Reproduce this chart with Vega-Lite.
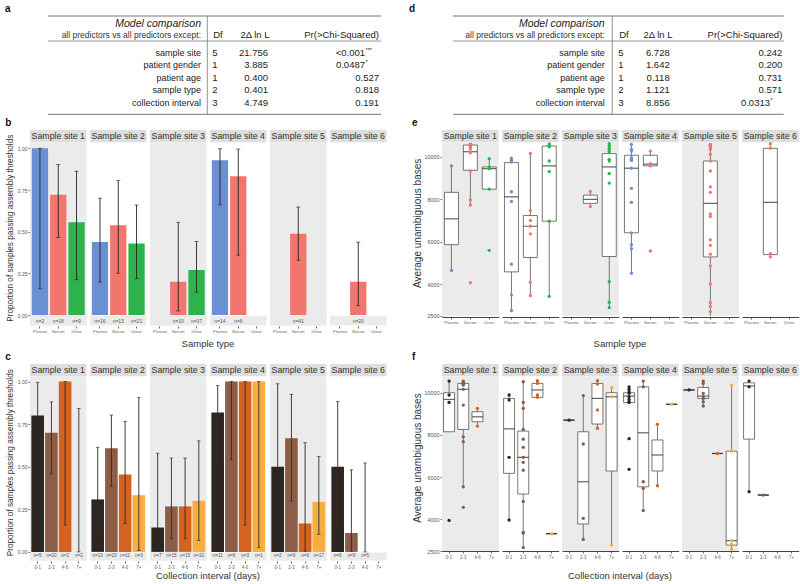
{
"$schema":"https://vega.github.io/schema/vega-lite/v6.json",
"background":"white",
"padding":{"left":5,"right":2,"top":3,"bottom":2},
"resolve":{"scale":{"color":"independent"}},
"config":{"font":"Liberation Sans","view":{"stroke":null},
"title":{"anchor":"start","frame":"bounds","fontSize":10,"fontWeight":"bold","color":"#111","offset":2},
"axis":{"grid":false,"domain":false,"tickSize":2,"tickColor":"#666","labelColor":"#555","titleColor":"#333","titleFontWeight":"normal"}},
"datasets":{
"ta":[{"row":"hdr1","label":"Model comparison"},{"row":"hdr2","label":"all predictors vs all predictors except:","df":"Df","dll":"2Δ ln L","p":"Pr(>Chi-Squared)"},{"row":"sample site","label":"sample site","df":"5","dll":"21.756","p":"<0.001","sig":"***"},{"row":"patient gender","label":"patient gender","df":"1","dll":"3.885","p":"0.0487","sig":"*"},{"row":"patient age","label":"patient age","df":"1","dll":"0.400","p":"0.527"},{"row":"sample type","label":"sample type","df":"2","dll":"0.401","p":"0.818"},{"row":"collection interval","label":"collection interval","df":"3","dll":"4.749","p":"0.191"}],
"td":[{"row":"hdr1","label":"Model comparison"},{"row":"hdr2","label":"all predictors vs all predictors except:","df":"Df","dll":"2Δ ln L","p":"Pr(>Chi-Squared)"},{"row":"sample site","label":"sample site","df":"5","dll":"6.728","p":"0.242"},{"row":"patient gender","label":"patient gender","df":"1","dll":"1.642","p":"0.200"},{"row":"patient age","label":"patient age","df":"1","dll":"0.118","p":"0.731"},{"row":"sample type","label":"sample type","df":"2","dll":"1.121","p":"0.571"},{"row":"collection interval","label":"collection interval","df":"3","dll":"8.856","p":"0.0313","sig":"*"}],
"b":[{"site":1,"type":"Plasma","p":1.0,"lo":0.158,"hi":1.0,"n":2},{"site":1,"type":"Serum","p":0.722,"lo":0.465,"hi":0.903,"n":18},{"site":1,"type":"Urine","p":0.556,"lo":0.212,"hi":0.863,"n":9},{"site":2,"type":"Plasma","p":0.4375,"lo":0.198,"hi":0.701,"n":16},{"site":2,"type":"Serum","p":0.538,"lo":0.251,"hi":0.808,"n":13},{"site":2,"type":"Urine","p":0.429,"lo":0.218,"hi":0.66,"n":21},{"site":3,"type":"Serum","p":0.2,"lo":0.025,"hi":0.556,"n":10},{"site":3,"type":"Urine","p":0.27,"lo":0.138,"hi":0.441,"n":37},{"site":4,"type":"Plasma","p":0.929,"lo":0.661,"hi":0.998,"n":14},{"site":4,"type":"Serum","p":0.833,"lo":0.359,"hi":0.996,"n":6},{"site":5,"type":"Serum","p":0.488,"lo":0.329,"hi":0.648,"n":41},{"site":6,"type":"Serum","p":0.2,"lo":0.057,"hi":0.437,"n":20}],
"c":[{"site":1,"iv":"0-1","p":0.8,"lo":0.284,"hi":0.995,"n":5},{"site":1,"iv":"2-3","p":0.7,"lo":0.457,"hi":0.881,"n":20},{"site":1,"iv":"4-6","p":1.0,"lo":0.158,"hi":1.0,"n":2},{"site":1,"iv":"7+","p":0,"lo":0,"hi":0.842,"n":2},{"site":2,"iv":"0-1","p":0.308,"lo":0.091,"hi":0.614,"n":13},{"site":2,"iv":"2-3","p":0.609,"lo":0.385,"hi":0.803,"n":23},{"site":2,"iv":"4-6","p":0.455,"lo":0.167,"hi":0.766,"n":11},{"site":2,"iv":"7+","p":0.333,"lo":0.008,"hi":0.906,"n":3},{"site":3,"iv":"0-1","p":0.143,"lo":0.004,"hi":0.579,"n":7},{"site":3,"iv":"2-3","p":0.267,"lo":0.078,"hi":0.551,"n":15},{"site":3,"iv":"4-6","p":0.267,"lo":0.078,"hi":0.551,"n":15},{"site":3,"iv":"7+","p":0.3,"lo":0.067,"hi":0.652,"n":10},{"site":4,"iv":"0-1","p":0.818,"lo":0.482,"hi":0.977,"n":11},{"site":4,"iv":"2-3","p":1.0,"lo":0.541,"hi":1.0,"n":6},{"site":4,"iv":"4-6","p":1.0,"lo":0.158,"hi":1.0,"n":3},{"site":4,"iv":"7+","p":1.0,"lo":0.025,"hi":1.0,"n":1},{"site":5,"iv":"0-1","p":0.5,"lo":0.013,"hi":0.987,"n":2},{"site":5,"iv":"2-3","p":0.667,"lo":0.299,"hi":0.925,"n":9},{"site":5,"iv":"4-6","p":0.167,"lo":0.004,"hi":0.641,"n":6},{"site":5,"iv":"7+","p":0.294,"lo":0.103,"hi":0.56,"n":17},{"site":6,"iv":"0-1","p":0.5,"lo":0.118,"hi":0.882,"n":6},{"site":6,"iv":"2-3","p":0.111,"lo":0.003,"hi":0.482,"n":9},{"site":6,"iv":"4-6","p":0,"lo":0,"hi":0.522,"n":5}],
"e":[{"k":"b","site":1,"type":"Plasma","lo":4640,"q1":5860,"med":7080,"q3":8330,"hi":9580},{"k":"b","site":1,"type":"Serum","lo":7730,"q1":9375,"med":10250,"q3":10565,"hi":10610},{"k":"b","site":1,"type":"Urine","lo":8480,"q1":8480,"med":9450,"q3":9530,"hi":9920},{"k":"b","site":2,"type":"Plasma","lo":2750,"q1":4575,"med":8120,"q3":9735,"hi":9940},{"k":"b","site":2,"type":"Serum","lo":3500,"q1":5250,"med":6730,"q3":7235,"hi":10170},{"k":"b","site":2,"type":"Urine","lo":3450,"q1":6970,"med":9580,"q3":10520,"hi":10630},{"k":"b","site":3,"type":"Serum","lo":7660,"q1":7810,"med":8000,"q3":8200,"hi":8375},{"k":"b","site":3,"type":"Urine","lo":2890,"q1":5300,"med":9530,"q3":10160,"hi":10625},{"k":"b","site":4,"type":"Plasma","lo":4510,"q1":6420,"med":9470,"q3":10080,"hi":10600},{"k":"b","site":4,"type":"Serum","lo":9580,"q1":9580,"med":9660,"q3":10080,"hi":10280},{"k":"b","site":5,"type":"Serum","lo":2500,"q1":5280,"med":7810,"q3":9810,"hi":10600},{"k":"b","site":6,"type":"Serum","lo":5280,"q1":5390,"med":7860,"q3":10410,"hi":10625},
{"k":"p","site":1,"type":"Plasma","v":9580},{"k":"p","site":1,"type":"Plasma","v":4640},
{"k":"p","site":1,"type":"Serum","v":10610},{"k":"p","site":1,"type":"Serum","v":10590},{"k":"p","site":1,"type":"Serum","v":10560},{"k":"p","site":1,"type":"Serum","v":10520},{"k":"p","site":1,"type":"Serum","v":10480},{"k":"p","site":1,"type":"Serum","v":10390},{"k":"p","site":1,"type":"Serum","v":10250},{"k":"p","site":1,"type":"Serum","v":10200},{"k":"p","site":1,"type":"Serum","v":9340},{"k":"p","site":1,"type":"Serum","v":7970},{"k":"p","site":1,"type":"Serum","v":7730},{"k":"p","site":1,"type":"Serum","v":4060},
{"k":"p","site":1,"type":"Urine","v":9920},{"k":"p","site":1,"type":"Urine","v":9530},{"k":"p","site":1,"type":"Urine","v":9450},{"k":"p","site":1,"type":"Urine","v":8480},{"k":"p","site":1,"type":"Urine","v":5590},
{"k":"p","site":2,"type":"Plasma","v":9940},{"k":"p","site":2,"type":"Plasma","v":9850},{"k":"p","site":2,"type":"Plasma","v":9770},{"k":"p","site":2,"type":"Plasma","v":8360},{"k":"p","site":2,"type":"Plasma","v":7900},{"k":"p","site":2,"type":"Plasma","v":4940},{"k":"p","site":2,"type":"Plasma","v":3480},{"k":"p","site":2,"type":"Plasma","v":2750},
{"k":"p","site":2,"type":"Serum","v":10170},{"k":"p","site":2,"type":"Serum","v":7470},{"k":"p","site":2,"type":"Serum","v":7000},{"k":"p","site":2,"type":"Serum","v":6730},{"k":"p","site":2,"type":"Serum","v":6370},{"k":"p","site":2,"type":"Serum","v":4080},{"k":"p","site":2,"type":"Serum","v":3450},
{"k":"p","site":2,"type":"Urine","v":10620},{"k":"p","site":2,"type":"Urine","v":10560},{"k":"p","site":2,"type":"Urine","v":10510},{"k":"p","site":2,"type":"Urine","v":10480},{"k":"p","site":2,"type":"Urine","v":9810},{"k":"p","site":2,"type":"Urine","v":9310},{"k":"p","site":2,"type":"Urine","v":6970},{"k":"p","site":2,"type":"Urine","v":3420},
{"k":"p","site":3,"type":"Serum","v":8375},{"k":"p","site":3,"type":"Serum","v":7660},
{"k":"p","site":3,"type":"Urine","v":10625},{"k":"p","site":3,"type":"Urine","v":10520},{"k":"p","site":3,"type":"Urine","v":10390},{"k":"p","site":3,"type":"Urine","v":10360},{"k":"p","site":3,"type":"Urine","v":10250},{"k":"p","site":3,"type":"Urine","v":9890},{"k":"p","site":3,"type":"Urine","v":9810},{"k":"p","site":3,"type":"Urine","v":9220},{"k":"p","site":3,"type":"Urine","v":8770},{"k":"p","site":3,"type":"Urine","v":4110},{"k":"p","site":3,"type":"Urine","v":3140},{"k":"p","site":3,"type":"Urine","v":2890},
{"k":"p","site":4,"type":"Plasma","v":10590},{"k":"p","site":4,"type":"Plasma","v":10360},{"k":"p","site":4,"type":"Plasma","v":10280},{"k":"p","site":4,"type":"Plasma","v":9970},{"k":"p","site":4,"type":"Plasma","v":9890},{"k":"p","site":4,"type":"Plasma","v":9840},{"k":"p","site":4,"type":"Plasma","v":9470},{"k":"p","site":4,"type":"Plasma","v":8520},{"k":"p","site":4,"type":"Plasma","v":7860},{"k":"p","site":4,"type":"Plasma","v":6420},{"k":"p","site":4,"type":"Plasma","v":5860},{"k":"p","site":4,"type":"Plasma","v":5670},{"k":"p","site":4,"type":"Plasma","v":4510},
{"k":"p","site":4,"type":"Serum","v":10280},{"k":"p","site":4,"type":"Serum","v":9690},{"k":"p","site":4,"type":"Serum","v":9580},{"k":"p","site":4,"type":"Serum","v":5560},
{"k":"p","site":5,"type":"Serum","v":10590},{"k":"p","site":5,"type":"Serum","v":10550},{"k":"p","site":5,"type":"Serum","v":10520},{"k":"p","site":5,"type":"Serum","v":10440},{"k":"p","site":5,"type":"Serum","v":10360},{"k":"p","site":5,"type":"Serum","v":10130},{"k":"p","site":5,"type":"Serum","v":9810},{"k":"p","site":5,"type":"Serum","v":9340},{"k":"p","site":5,"type":"Serum","v":8590},{"k":"p","site":5,"type":"Serum","v":8330},{"k":"p","site":5,"type":"Serum","v":7310},{"k":"p","site":5,"type":"Serum","v":7190},{"k":"p","site":5,"type":"Serum","v":6090},{"k":"p","site":5,"type":"Serum","v":5830},{"k":"p","site":5,"type":"Serum","v":5410},{"k":"p","site":5,"type":"Serum","v":4860},{"k":"p","site":5,"type":"Serum","v":4000},{"k":"p","site":5,"type":"Serum","v":3120},{"k":"p","site":5,"type":"Serum","v":2940},{"k":"p","site":5,"type":"Serum","v":2700},
{"k":"p","site":6,"type":"Serum","v":10625},{"k":"p","site":6,"type":"Serum","v":10410},{"k":"p","site":6,"type":"Serum","v":5440},{"k":"p","site":6,"type":"Serum","v":5280}],
"f":[{"k":"b","site":1,"iv":"0-1","lo":8150,"q1":8150,"med":9680,"q3":10000,"hi":10550},{"k":"b","site":1,"iv":"2-3","lo":5540,"q1":8260,"med":10160,"q3":10440,"hi":10600},{"k":"b","site":1,"iv":"4-6","lo":8420,"q1":8625,"med":8860,"q3":9100,"hi":9260},{"k":"b","site":2,"iv":"0-1","lo":3970,"q1":6180,"med":8290,"q3":9730,"hi":9890},{"k":"b","site":2,"iv":"2-3","lo":2650,"q1":5200,"med":6935,"q3":8180,"hi":10520},{"k":"b","site":2,"iv":"4-6","lo":9780,"q1":9780,"med":10130,"q3":10440,"hi":10570},{"k":"b","site":2,"iv":"7+","lo":3320,"q1":3320,"med":3320,"q3":3320,"hi":3320},{"k":"b","site":3,"iv":"0-1","lo":8700,"q1":8700,"med":8700,"q3":8700,"hi":8700},{"k":"b","site":3,"iv":"2-3","lo":3050,"q1":3780,"med":5780,"q3":8150,"hi":9860},{"k":"b","site":3,"iv":"4-6","lo":8310,"q1":8515,"med":9730,"q3":10440,"hi":10570},{"k":"b","site":3,"iv":"7+","lo":2780,"q1":6290,"med":9810,"q3":10000,"hi":10240},{"k":"b","site":4,"iv":"0-1","lo":9530,"q1":9530,"med":9840,"q3":10000,"hi":10280},{"k":"b","site":4,"iv":"2-3","lo":4520,"q1":5540,"med":8100,"q3":10280,"hi":10550},{"k":"b","site":4,"iv":"4-6","lo":5590,"q1":6290,"med":7050,"q3":7760,"hi":8500},{"k":"b","site":4,"iv":"7+","lo":9450,"q1":9450,"med":9450,"q3":9450,"hi":9450},{"k":"b","site":5,"iv":"0-1","lo":10130,"q1":10130,"med":10130,"q3":10130,"hi":10130},{"k":"b","site":5,"iv":"2-3","lo":9370,"q1":9730,"med":9840,"q3":10250,"hi":10550},{"k":"b","site":5,"iv":"4-6","lo":7120,"q1":7120,"med":7120,"q3":7120,"hi":7120},{"k":"b","site":5,"iv":"7+","lo":2580,"q1":2780,"med":2990,"q3":7230,"hi":10360},{"k":"b","site":6,"iv":"0-1","lo":5310,"q1":7800,"med":10320,"q3":10470,"hi":10550},{"k":"b","site":6,"iv":"2-3","lo":5150,"q1":5150,"med":5150,"q3":5150,"hi":5150},
{"k":"p","site":1,"iv":"0-1","v":10550},{"k":"p","site":1,"iv":"0-1","v":9890},{"k":"p","site":1,"iv":"0-1","v":9540},{"k":"p","site":1,"iv":"0-1","v":3950},
{"k":"p","site":1,"iv":"2-3","v":10550},{"k":"p","site":1,"iv":"2-3","v":10510},{"k":"p","site":1,"iv":"2-3","v":10470},{"k":"p","site":1,"iv":"2-3","v":10440},{"k":"p","site":1,"iv":"2-3","v":10400},{"k":"p","site":1,"iv":"2-3","v":10360},{"k":"p","site":1,"iv":"2-3","v":10160},{"k":"p","site":1,"iv":"2-3","v":9415},{"k":"p","site":1,"iv":"2-3","v":7910},{"k":"p","site":1,"iv":"2-3","v":7680},{"k":"p","site":1,"iv":"2-3","v":5540},{"k":"p","site":1,"iv":"2-3","v":4570},
{"k":"p","site":1,"iv":"4-6","v":9260},{"k":"p","site":1,"iv":"4-6","v":8420},
{"k":"p","site":2,"iv":"0-1","v":9890},{"k":"p","site":2,"iv":"0-1","v":9650},{"k":"p","site":2,"iv":"0-1","v":6940},{"k":"p","site":2,"iv":"0-1","v":3970},
{"k":"p","site":2,"iv":"2-3","v":10520},{"k":"p","site":2,"iv":"2-3","v":9540},{"k":"p","site":2,"iv":"2-3","v":9260},{"k":"p","site":2,"iv":"2-3","v":8260},{"k":"p","site":2,"iv":"2-3","v":7800},{"k":"p","site":2,"iv":"2-3","v":7410},{"k":"p","site":2,"iv":"2-3","v":6940},{"k":"p","site":2,"iv":"2-3","v":6700},{"k":"p","site":2,"iv":"2-3","v":6330},{"k":"p","site":2,"iv":"2-3","v":4850},{"k":"p","site":2,"iv":"2-3","v":3380},{"k":"p","site":2,"iv":"2-3","v":3350},{"k":"p","site":2,"iv":"2-3","v":2660},
{"k":"p","site":2,"iv":"4-6","v":10570},{"k":"p","site":2,"iv":"4-6","v":10440},{"k":"p","site":2,"iv":"4-6","v":9890},{"k":"p","site":2,"iv":"4-6","v":9780},
{"k":"p","site":2,"iv":"7+","v":3320},
{"k":"p","site":3,"iv":"0-1","v":8700},
{"k":"p","site":3,"iv":"2-3","v":9860},{"k":"p","site":3,"iv":"2-3","v":7570},{"k":"p","site":3,"iv":"2-3","v":4050},{"k":"p","site":3,"iv":"2-3","v":3050},
{"k":"p","site":3,"iv":"4-6","v":10570},{"k":"p","site":3,"iv":"4-6","v":10410},{"k":"p","site":3,"iv":"4-6","v":9180},{"k":"p","site":3,"iv":"4-6","v":8310},
{"k":"p","site":3,"iv":"7+","v":10240},{"k":"p","site":3,"iv":"7+","v":9810},{"k":"p","site":3,"iv":"7+","v":2780},
{"k":"p","site":4,"iv":"0-1","v":10280},{"k":"p","site":4,"iv":"0-1","v":10160},{"k":"p","site":4,"iv":"0-1","v":10050},{"k":"p","site":4,"iv":"0-1","v":9970},{"k":"p","site":4,"iv":"0-1","v":9810},{"k":"p","site":4,"iv":"0-1","v":9680},{"k":"p","site":4,"iv":"0-1","v":9570},{"k":"p","site":4,"iv":"0-1","v":9530},{"k":"p","site":4,"iv":"0-1","v":7820},{"k":"p","site":4,"iv":"0-1","v":6370},
{"k":"p","site":4,"iv":"2-3","v":10550},{"k":"p","site":4,"iv":"2-3","v":10280},{"k":"p","site":4,"iv":"2-3","v":5780},{"k":"p","site":4,"iv":"2-3","v":5470},{"k":"p","site":4,"iv":"2-3","v":4420},
{"k":"p","site":4,"iv":"4-6","v":8500},{"k":"p","site":4,"iv":"4-6","v":5590},
{"k":"p","site":4,"iv":"7+","v":9450},
{"k":"p","site":5,"iv":"0-1","v":10130},
{"k":"p","site":5,"iv":"2-3","v":10550},{"k":"p","site":5,"iv":"2-3","v":10440},{"k":"p","site":5,"iv":"2-3","v":9970},{"k":"p","site":5,"iv":"2-3","v":9810},{"k":"p","site":5,"iv":"2-3","v":9730},{"k":"p","site":5,"iv":"2-3","v":9570},{"k":"p","site":5,"iv":"2-3","v":9370},
{"k":"p","site":5,"iv":"4-6","v":7120},
{"k":"p","site":5,"iv":"7+","v":10360},{"k":"p","site":5,"iv":"7+","v":7230},{"k":"p","site":5,"iv":"7+","v":2990},{"k":"p","site":5,"iv":"7+","v":2830},{"k":"p","site":5,"iv":"7+","v":2580},
{"k":"p","site":6,"iv":"0-1","v":10550},{"k":"p","site":6,"iv":"0-1","v":10280},{"k":"p","site":6,"iv":"0-1","v":5310},
{"k":"p","site":6,"iv":"2-3","v":5150}]
},
"spacing":22,
"hconcat":[
{"spacing":3,"resolve":{"scale":{"color":"independent"}},"vconcat":[
{"title":{"text":"a","dx":-25},"width":354,"height":98.3,"data":{"name":"ta"},
"layer":[
{"transform":[{"filter":"datum.row == 'hdr1'"}],"mark":{"type":"rule","color":"#777","strokeWidth":1},"encoding":{"x":{"datum":18,"type":"quantitative","scale":{"domain":[0,354],"nice":false,"zero":false},"axis":null},"x2":{"datum":351},"y":{"field":"row","type":"nominal","scale":{"type":"band","domain":["hdr1","hdr2","sample site","patient gender","patient age","sample type","collection interval"],"paddingInner":0,"paddingOuter":0.432},"axis":null,"bandPosition":-0.432}}},
{"transform":[{"filter":"datum.row == 'hdr2'"}],"mark":{"type":"rule","color":"#777","strokeWidth":0.8},"encoding":{"x":{"datum":18,"type":"quantitative","scale":{"domain":[0,354],"nice":false,"zero":false},"axis":null},"x2":{"datum":351},"y":{"field":"row","type":"nominal","scale":{"type":"band","domain":["hdr1","hdr2","sample site","patient gender","patient age","sample type","collection interval"],"paddingInner":0,"paddingOuter":0.432},"axis":null,"bandPosition":0.57}}},
{"transform":[{"filter":"datum.row == 'collection interval'"}],"mark":{"type":"rule","color":"#777","strokeWidth":1},"encoding":{"x":{"datum":18,"type":"quantitative","scale":{"domain":[0,354],"nice":false,"zero":false},"axis":null},"x2":{"datum":351},"y":{"field":"row","type":"nominal","scale":{"type":"band","domain":["hdr1","hdr2","sample site","patient gender","patient age","sample type","collection interval"],"paddingInner":0,"paddingOuter":0.432},"axis":null,"bandPosition":1.432}}},
{"transform":[{"filter":"datum.row == 'hdr1'"}],"mark":{"type":"rule","color":"#777","strokeWidth":0.8},"encoding":{"x":{"datum":177.3,"type":"quantitative","scale":{"domain":[0,354],"nice":false,"zero":false},"axis":null}}},
{"transform":[{"filter":"datum.row == 'hdr1'"}],"mark":{"type":"text","align":"right","fontStyle":"italic","fontSize":10.5,"color":"#222"},"encoding":{"x":{"datum":171,"type":"quantitative","scale":{"domain":[0,354],"nice":false,"zero":false},"axis":null},"y":{"field":"row","type":"nominal","scale":{"type":"band","domain":["hdr1","hdr2","sample site","patient gender","patient age","sample type","collection interval"],"paddingInner":0,"paddingOuter":0.432},"axis":null,"bandPosition":0.23},"text":{"field":"label"}}},
{"transform":[{"filter":"datum.row == 'hdr2'"}],"mark":{"type":"text","align":"right","fontSize":8.5,"color":"#333"},"encoding":{"x":{"datum":171,"type":"quantitative","scale":{"domain":[0,354],"nice":false,"zero":false},"axis":null},"y":{"field":"row","type":"nominal","scale":{"type":"band","domain":["hdr1","hdr2","sample site","patient gender","patient age","sample type","collection interval"],"paddingInner":0,"paddingOuter":0.432},"axis":null,"bandPosition":0.11},"text":{"field":"label"}}},
{"transform":[{"filter":"datum.row == 'hdr2'"}],"mark":{"type":"text","align":"center","fontSize":9.5,"color":"#222"},"encoding":{"x":{"datum":188,"type":"quantitative","scale":{"domain":[0,354],"nice":false,"zero":false},"axis":null},"y":{"field":"row","type":"nominal","scale":{"type":"band","domain":["hdr1","hdr2","sample site","patient gender","patient age","sample type","collection interval"],"paddingInner":0,"paddingOuter":0.432},"axis":null,"bandPosition":0.11},"text":{"field":"df"}}},
{"transform":[{"filter":"datum.row == 'hdr2'"}],"mark":{"type":"text","align":"center","fontSize":9.5,"color":"#222"},"encoding":{"x":{"datum":225,"type":"quantitative","scale":{"domain":[0,354],"nice":false,"zero":false},"axis":null},"y":{"field":"row","type":"nominal","scale":{"type":"band","domain":["hdr1","hdr2","sample site","patient gender","patient age","sample type","collection interval"],"paddingInner":0,"paddingOuter":0.432},"axis":null,"bandPosition":0.11},"text":{"field":"dll"}}},
{"transform":[{"filter":"datum.row == 'hdr2'"}],"mark":{"type":"text","align":"right","fontSize":9.5,"color":"#222"},"encoding":{"x":{"datum":349,"type":"quantitative","scale":{"domain":[0,354],"nice":false,"zero":false},"axis":null},"y":{"field":"row","type":"nominal","scale":{"type":"band","domain":["hdr1","hdr2","sample site","patient gender","patient age","sample type","collection interval"],"paddingInner":0,"paddingOuter":0.432},"axis":null,"bandPosition":0.11},"text":{"field":"p"}}},
{"transform":[{"filter":"datum.row != 'hdr1' && datum.row != 'hdr2'"}],"mark":{"type":"text","align":"right","fontSize":9,"color":"#222"},"encoding":{"x":{"datum":171,"type":"quantitative","scale":{"domain":[0,354],"nice":false,"zero":false},"axis":null},"y":{"field":"row","type":"nominal","scale":{"type":"band","domain":["hdr1","hdr2","sample site","patient gender","patient age","sample type","collection interval"],"paddingInner":0,"paddingOuter":0.432},"axis":null},"text":{"field":"label"}}},
{"transform":[{"filter":"datum.row != 'hdr1' && datum.row != 'hdr2'"}],"mark":{"type":"text","align":"center","fontSize":9.5,"color":"#222"},"encoding":{"x":{"datum":185,"type":"quantitative","scale":{"domain":[0,354],"nice":false,"zero":false},"axis":null},"y":{"field":"row","type":"nominal","scale":{"type":"band","domain":["hdr1","hdr2","sample site","patient gender","patient age","sample type","collection interval"],"paddingInner":0,"paddingOuter":0.432},"axis":null},"text":{"field":"df"}}},
{"transform":[{"filter":"datum.row != 'hdr1' && datum.row != 'hdr2'"}],"mark":{"type":"text","align":"right","fontSize":9.5,"color":"#222"},"encoding":{"x":{"datum":238,"type":"quantitative","scale":{"domain":[0,354],"nice":false,"zero":false},"axis":null},"y":{"field":"row","type":"nominal","scale":{"type":"band","domain":["hdr1","hdr2","sample site","patient gender","patient age","sample type","collection interval"],"paddingInner":0,"paddingOuter":0.432},"axis":null},"text":{"field":"dll"}}},
{"transform":[{"filter":"datum.row != 'hdr1' && datum.row != 'hdr2' && !datum.sig"}],"mark":{"type":"text","align":"right","fontSize":9.5,"color":"#222"},"encoding":{"x":{"datum":349,"type":"quantitative","scale":{"domain":[0,354],"nice":false,"zero":false},"axis":null},"y":{"field":"row","type":"nominal","scale":{"type":"band","domain":["hdr1","hdr2","sample site","patient gender","patient age","sample type","collection interval"],"paddingInner":0,"paddingOuter":0.432},"axis":null},"text":{"field":"p"}}},
{"transform":[{"filter":"datum.sig"}],"mark":{"type":"text","align":"right","fontSize":9.5,"color":"#222"},"encoding":{"x":{"datum":335,"type":"quantitative","scale":{"domain":[0,354],"nice":false,"zero":false},"axis":null},"y":{"field":"row","type":"nominal","scale":{"type":"band","domain":["hdr1","hdr2","sample site","patient gender","patient age","sample type","collection interval"],"paddingInner":0,"paddingOuter":0.432},"axis":null},"text":{"field":"p"}}},
{"transform":[{"filter":"datum.sig"}],"mark":{"type":"text","align":"left","fontSize":5.5,"dy":-3,"color":"#222"},"encoding":{"x":{"datum":335.5,"type":"quantitative","scale":{"domain":[0,354],"nice":false,"zero":false},"axis":null},"y":{"field":"row","type":"nominal","scale":{"type":"band","domain":["hdr1","hdr2","sample site","patient gender","patient age","sample type","collection interval"],"paddingInner":0,"paddingOuter":0.432},"axis":null},"text":{"field":"sig"}}}
]},
{"title":{"text":"b"},"data":{"name":"b"},"transform":[{"calculate":"'n=' + datum.n","as":"nlab"}],
"facet":{"column":{"field":"site","type":"ordinal","header":{"labels":false,"title":"Sample type","titleOrient":"bottom","titleFontSize":9.5,"titleFontWeight":"normal","titleColor":"#333","titlePadding":-5}}},
"spacing":3,
"spec":{"width":56.5,"height":195.4,"layer":[
{"transform":[{"aggregate":[{"op":"count","as":"cnt"}],"groupby":["site"]}],"mark":{"type":"rect"},"encoding":{"y":{"datum":-0.062,"type":"quantitative","scale":{"domain":[-0.062,1.11],"nice":false,"zero":false},"axis":{"values":[0,0.25,0.5,0.75,1],"format":".2f","title":"Proportion of samples passing assembly thresholds","titleFontSize":8.2,"labelFontSize":5,"labelPadding":1,"titlePadding":3}},"y2":{"datum":1.035},"fill":{"condition":{"test":"datum.site % 2 == 1","value":"#ebebeb"},"value":"#ffffff"}}},
{"transform":[{"aggregate":[{"op":"count","as":"cnt"}],"groupby":["site"]}],"mark":{"type":"rect","fill":"#dedede"},"encoding":{"y":{"datum":1.037,"type":"quantitative"},"y2":{"datum":1.11}}},
{"transform":[{"aggregate":[{"op":"count","as":"cnt"}],"groupby":["site"]},{"calculate":"'Sample site ' + datum.site","as":"strip"}],"mark":{"type":"text","fontSize":8.8,"color":"#333"},"encoding":{"y":{"datum":1.073,"type":"quantitative"},"text":{"field":"strip"}}},
{"transform":[{"aggregate":[{"op":"count","as":"cnt"}],"groupby":["site"]}],"mark":{"type":"rect","fill":"#ebebeb"},"encoding":{"y":{"datum":-0.062,"type":"quantitative"},"y2":{"datum":-0.004}}},
{"mark":{"type":"bar"},"encoding":{"x":{"field":"type","type":"nominal","scale":{"domain":["Plasma","Serum","Urine"],"paddingInner":0.11,"paddingOuter":0.1},"axis":{"title":null,"labelFontSize":4.3,"labelAngle":0,"labelPadding":1.5,"tickSize":2,"labelColor":"#666"}},"y":{"field":"p","type":"quantitative","stack":null},"color":{"field":"type","type":"nominal","scale":{"domain":["Plasma","Serum","Urine"],"range":["#6a8fd3","#f3766e","#2cb34b"]},"legend":null}}},
{"mark":{"type":"rule","color":"#222","strokeWidth":0.9},"encoding":{"x":{"field":"type","type":"nominal"},"y":{"field":"lo","type":"quantitative"},"y2":{"field":"hi"}}},
{"mark":{"type":"tick","color":"#222","size":4,"thickness":0.9},"encoding":{"x":{"field":"type","type":"nominal"},"y":{"field":"lo","type":"quantitative"}}},
{"mark":{"type":"tick","color":"#222","size":4,"thickness":0.9},"encoding":{"x":{"field":"type","type":"nominal"},"y":{"field":"hi","type":"quantitative"}}},
{"mark":{"type":"text","fontSize":5,"color":"#555"},"encoding":{"x":{"field":"type","type":"nominal"},"y":{"datum":-0.033,"type":"quantitative"},"text":{"field":"nlab"}}}
]}},
{"title":{"text":"c"},"data":{"name":"c"},"transform":[{"calculate":"'n=' + datum.n","as":"nlab"}],
"facet":{"column":{"field":"site","type":"ordinal","header":{"labels":false,"title":"Collection interval (days)","titleOrient":"bottom","titleFontSize":9.5,"titleFontWeight":"normal","titleColor":"#333","titlePadding":-8}}},
"spacing":3,
"spec":{"width":56.5,"height":196.4,"layer":[
{"transform":[{"aggregate":[{"op":"count","as":"cnt"}],"groupby":["site"]}],"mark":{"type":"rect"},"encoding":{"y":{"datum":-0.05,"type":"quantitative","scale":{"domain":[-0.05,1.103],"nice":false,"zero":false},"axis":{"values":[0,0.25,0.5,0.75,1],"format":".2f","title":"Proportion of samples passing assembly thresholds","titleFontSize":8.2,"labelFontSize":5,"labelPadding":1,"titlePadding":3}},"y2":{"datum":1.029},"fill":{"condition":{"test":"datum.site % 2 == 1","value":"#ebebeb"},"value":"#ffffff"}}},
{"transform":[{"aggregate":[{"op":"count","as":"cnt"}],"groupby":["site"]}],"mark":{"type":"rect","fill":"#dedede"},"encoding":{"y":{"datum":1.031,"type":"quantitative"},"y2":{"datum":1.103}}},
{"transform":[{"aggregate":[{"op":"count","as":"cnt"}],"groupby":["site"]},{"calculate":"'Sample site ' + datum.site","as":"strip"}],"mark":{"type":"text","fontSize":8.8,"color":"#333"},"encoding":{"y":{"datum":1.067,"type":"quantitative"},"text":{"field":"strip"}}},
{"transform":[{"aggregate":[{"op":"count","as":"cnt"}],"groupby":["site"]}],"mark":{"type":"rect","fill":"#ebebeb"},"encoding":{"y":{"datum":-0.05,"type":"quantitative"},"y2":{"datum":-0.004}}},
{"mark":{"type":"bar"},"encoding":{"x":{"field":"iv","type":"ordinal","scale":{"domain":["0-1","2-3","4-6","7+"],"paddingInner":0.08,"paddingOuter":0.1},"axis":{"title":null,"labelFontSize":4.5,"labelAngle":0,"labelPadding":1.5,"tickSize":2,"labelColor":"#666"}},"y":{"field":"p","type":"quantitative","stack":null},"color":{"field":"iv","type":"nominal","scale":{"domain":["0-1","2-3","4-6","7+"],"range":["#2e2520","#8c5d49","#d4631f","#f7ae3e"]},"legend":null}}},
{"mark":{"type":"rule","color":"#2a2a2a","strokeWidth":0.9},"encoding":{"x":{"field":"iv","type":"ordinal"},"y":{"field":"lo","type":"quantitative"},"y2":{"field":"hi"}}},
{"mark":{"type":"tick","color":"#2a2a2a","size":3.5,"thickness":0.9},"encoding":{"x":{"field":"iv","type":"ordinal"},"y":{"field":"lo","type":"quantitative"}}},
{"mark":{"type":"tick","color":"#2a2a2a","size":3.5,"thickness":0.9},"encoding":{"x":{"field":"iv","type":"ordinal"},"y":{"field":"hi","type":"quantitative"}}},
{"mark":{"type":"text","fontSize":4.6,"color":"#555"},"encoding":{"x":{"field":"iv","type":"ordinal"},"y":{"datum":-0.027,"type":"quantitative"},"text":{"field":"nlab"}}}
]}}
]},
{"spacing":3,"resolve":{"scale":{"color":"independent"}},"vconcat":[
{"title":{"text":"d","dx":-33},"width":355,"height":98.3,"data":{"name":"td"},
"layer":[
{"transform":[{"filter":"datum.row == 'hdr1'"}],"mark":{"type":"rule","color":"#777","strokeWidth":1},"encoding":{"x":{"datum":11,"type":"quantitative","scale":{"domain":[0,355],"nice":false,"zero":false},"axis":null},"x2":{"datum":341.7},"y":{"field":"row","type":"nominal","scale":{"type":"band","domain":["hdr1","hdr2","sample site","patient gender","patient age","sample type","collection interval"],"paddingInner":0,"paddingOuter":0.432},"axis":null,"bandPosition":-0.432}}},
{"transform":[{"filter":"datum.row == 'hdr2'"}],"mark":{"type":"rule","color":"#777","strokeWidth":0.8},"encoding":{"x":{"datum":11,"type":"quantitative","scale":{"domain":[0,355],"nice":false,"zero":false},"axis":null},"x2":{"datum":341.7},"y":{"field":"row","type":"nominal","scale":{"type":"band","domain":["hdr1","hdr2","sample site","patient gender","patient age","sample type","collection interval"],"paddingInner":0,"paddingOuter":0.432},"axis":null,"bandPosition":0.57}}},
{"transform":[{"filter":"datum.row == 'collection interval'"}],"mark":{"type":"rule","color":"#777","strokeWidth":1},"encoding":{"x":{"datum":11,"type":"quantitative","scale":{"domain":[0,355],"nice":false,"zero":false},"axis":null},"x2":{"datum":341.7},"y":{"field":"row","type":"nominal","scale":{"type":"band","domain":["hdr1","hdr2","sample site","patient gender","patient age","sample type","collection interval"],"paddingInner":0,"paddingOuter":0.432},"axis":null,"bandPosition":1.432}}},
{"transform":[{"filter":"datum.row == 'hdr1'"}],"mark":{"type":"rule","color":"#777","strokeWidth":0.8},"encoding":{"x":{"datum":170.3,"type":"quantitative","scale":{"domain":[0,355],"nice":false,"zero":false},"axis":null}}},
{"transform":[{"filter":"datum.row == 'hdr1'"}],"mark":{"type":"text","align":"right","fontStyle":"italic","fontSize":10.5,"color":"#222"},"encoding":{"x":{"datum":162.7,"type":"quantitative","scale":{"domain":[0,355],"nice":false,"zero":false},"axis":null},"y":{"field":"row","type":"nominal","scale":{"type":"band","domain":["hdr1","hdr2","sample site","patient gender","patient age","sample type","collection interval"],"paddingInner":0,"paddingOuter":0.432},"axis":null,"bandPosition":0.23},"text":{"field":"label"}}},
{"transform":[{"filter":"datum.row == 'hdr2'"}],"mark":{"type":"text","align":"right","fontSize":8.5,"color":"#333"},"encoding":{"x":{"datum":162.7,"type":"quantitative","scale":{"domain":[0,355],"nice":false,"zero":false},"axis":null},"y":{"field":"row","type":"nominal","scale":{"type":"band","domain":["hdr1","hdr2","sample site","patient gender","patient age","sample type","collection interval"],"paddingInner":0,"paddingOuter":0.432},"axis":null,"bandPosition":0.11},"text":{"field":"label"}}},
{"transform":[{"filter":"datum.row == 'hdr2'"}],"mark":{"type":"text","align":"center","fontSize":9.5,"color":"#222"},"encoding":{"x":{"datum":182,"type":"quantitative","scale":{"domain":[0,355],"nice":false,"zero":false},"axis":null},"y":{"field":"row","type":"nominal","scale":{"type":"band","domain":["hdr1","hdr2","sample site","patient gender","patient age","sample type","collection interval"],"paddingInner":0,"paddingOuter":0.432},"axis":null,"bandPosition":0.11},"text":{"field":"df"}}},
{"transform":[{"filter":"datum.row == 'hdr2'"}],"mark":{"type":"text","align":"center","fontSize":9.5,"color":"#222"},"encoding":{"x":{"datum":216,"type":"quantitative","scale":{"domain":[0,355],"nice":false,"zero":false},"axis":null},"y":{"field":"row","type":"nominal","scale":{"type":"band","domain":["hdr1","hdr2","sample site","patient gender","patient age","sample type","collection interval"],"paddingInner":0,"paddingOuter":0.432},"axis":null,"bandPosition":0.11},"text":{"field":"dll"}}},
{"transform":[{"filter":"datum.row == 'hdr2'"}],"mark":{"type":"text","align":"right","fontSize":9.5,"color":"#222"},"encoding":{"x":{"datum":340.3,"type":"quantitative","scale":{"domain":[0,355],"nice":false,"zero":false},"axis":null},"y":{"field":"row","type":"nominal","scale":{"type":"band","domain":["hdr1","hdr2","sample site","patient gender","patient age","sample type","collection interval"],"paddingInner":0,"paddingOuter":0.432},"axis":null,"bandPosition":0.11},"text":{"field":"p"}}},
{"transform":[{"filter":"datum.row != 'hdr1' && datum.row != 'hdr2'"}],"mark":{"type":"text","align":"right","fontSize":9,"color":"#222"},"encoding":{"x":{"datum":162.7,"type":"quantitative","scale":{"domain":[0,355],"nice":false,"zero":false},"axis":null},"y":{"field":"row","type":"nominal","scale":{"type":"band","domain":["hdr1","hdr2","sample site","patient gender","patient age","sample type","collection interval"],"paddingInner":0,"paddingOuter":0.432},"axis":null},"text":{"field":"label"}}},
{"transform":[{"filter":"datum.row != 'hdr1' && datum.row != 'hdr2'"}],"mark":{"type":"text","align":"center","fontSize":9.5,"color":"#222"},"encoding":{"x":{"datum":179,"type":"quantitative","scale":{"domain":[0,355],"nice":false,"zero":false},"axis":null},"y":{"field":"row","type":"nominal","scale":{"type":"band","domain":["hdr1","hdr2","sample site","patient gender","patient age","sample type","collection interval"],"paddingInner":0,"paddingOuter":0.432},"axis":null},"text":{"field":"df"}}},
{"transform":[{"filter":"datum.row != 'hdr1' && datum.row != 'hdr2'"}],"mark":{"type":"text","align":"right","fontSize":9.5,"color":"#222"},"encoding":{"x":{"datum":227.7,"type":"quantitative","scale":{"domain":[0,355],"nice":false,"zero":false},"axis":null},"y":{"field":"row","type":"nominal","scale":{"type":"band","domain":["hdr1","hdr2","sample site","patient gender","patient age","sample type","collection interval"],"paddingInner":0,"paddingOuter":0.432},"axis":null},"text":{"field":"dll"}}},
{"transform":[{"filter":"datum.row != 'hdr1' && datum.row != 'hdr2' && !datum.sig"}],"mark":{"type":"text","align":"right","fontSize":9.5,"color":"#222"},"encoding":{"x":{"datum":340.3,"type":"quantitative","scale":{"domain":[0,355],"nice":false,"zero":false},"axis":null},"y":{"field":"row","type":"nominal","scale":{"type":"band","domain":["hdr1","hdr2","sample site","patient gender","patient age","sample type","collection interval"],"paddingInner":0,"paddingOuter":0.432},"axis":null},"text":{"field":"p"}}},
{"transform":[{"filter":"datum.sig"}],"mark":{"type":"text","align":"right","fontSize":9.5,"color":"#222"},"encoding":{"x":{"datum":328,"type":"quantitative","scale":{"domain":[0,355],"nice":false,"zero":false},"axis":null},"y":{"field":"row","type":"nominal","scale":{"type":"band","domain":["hdr1","hdr2","sample site","patient gender","patient age","sample type","collection interval"],"paddingInner":0,"paddingOuter":0.432},"axis":null},"text":{"field":"p"}}},
{"transform":[{"filter":"datum.sig"}],"mark":{"type":"text","align":"left","fontSize":5.5,"dy":-3,"color":"#222"},"encoding":{"x":{"datum":328.5,"type":"quantitative","scale":{"domain":[0,355],"nice":false,"zero":false},"axis":null},"y":{"field":"row","type":"nominal","scale":{"type":"band","domain":["hdr1","hdr2","sample site","patient gender","patient age","sample type","collection interval"],"paddingInner":0,"paddingOuter":0.432},"axis":null},"text":{"field":"sig"}}}
]},
{"title":{"text":"e"},"data":{"name":"e"},
"facet":{"column":{"field":"site","type":"ordinal","header":{"labels":false,"title":"Sample type","titleOrient":"bottom","titleFontSize":9.5,"titleFontWeight":"normal","titleColor":"#333","titlePadding":4}}},
"spacing":3,
"spec":{"width":56.7,"height":185.8,"layer":[
{"transform":[{"aggregate":[{"op":"count","as":"cnt"}],"groupby":["site"]}],"mark":{"type":"rect"},"encoding":{"y":{"datum":2500,"type":"quantitative","scale":{"domain":[2500,11275],"nice":false,"zero":false},"axis":{"values":[2500,4000,6000,8000,10000],"format":"d","title":"Average unambiguous bases","titleFontSize":10,"labelFontSize":5.4,"labelPadding":1,"titlePadding":2}},"y2":{"datum":10685},"fill":{"condition":{"test":"datum.site % 2 == 1","value":"#ebebeb"},"value":"#ffffff"}}},
{"transform":[{"aggregate":[{"op":"count","as":"cnt"}],"groupby":["site"]}],"mark":{"type":"rect","fill":"#dedede"},"encoding":{"y":{"datum":10700,"type":"quantitative"},"y2":{"datum":11275}}},
{"transform":[{"aggregate":[{"op":"count","as":"cnt"}],"groupby":["site"]},{"calculate":"'Sample site ' + datum.site","as":"strip"}],"mark":{"type":"text","fontSize":8.8,"color":"#333"},"encoding":{"y":{"datum":10988,"type":"quantitative"},"text":{"field":"strip"}}},
{"transform":[{"filter":"datum.k == 'b'"}],"mark":{"type":"rule","color":"#777","strokeWidth":1},"encoding":{"x":{"field":"type","type":"nominal","scale":{"domain":["Plasma","Serum","Urine"],"paddingInner":0,"paddingOuter":0},"axis":{"title":null,"labelFontSize":4.3,"labelAngle":0,"labelPadding":1.5,"tickSize":2,"domain":true,"domainColor":"#444","labelColor":"#666"}},"y":{"field":"lo","type":"quantitative"},"y2":{"field":"hi"}}},
{"transform":[{"filter":"datum.k == 'b'"}],"mark":{"type":"bar","size":14,"fill":"white","stroke":"#555","strokeWidth":0.8},"encoding":{"x":{"field":"type","type":"nominal"},"y":{"field":"q1","type":"quantitative"},"y2":{"field":"q3"}}},
{"transform":[{"filter":"datum.k == 'b'"}],"mark":{"type":"tick","size":14,"thickness":1.2,"color":"#222"},"encoding":{"x":{"field":"type","type":"nominal"},"y":{"field":"med","type":"quantitative"}}},
{"transform":[{"filter":"datum.k == 'p'"}],"mark":{"type":"circle","size":11,"opacity":1},"encoding":{"x":{"field":"type","type":"nominal"},"y":{"field":"v","type":"quantitative"},"color":{"field":"type","type":"nominal","scale":{"domain":["Plasma","Serum","Urine"],"range":["#6a8fd3","#f3766e","#2cb34b"]},"legend":null}}}
]}},
{"title":{"text":"f"},"data":{"name":"f"},
"facet":{"column":{"field":"site","type":"ordinal","header":{"labels":false,"title":"Collection interval (days)","titleOrient":"bottom","titleFontSize":9.5,"titleFontWeight":"normal","titleColor":"#333","titlePadding":2}}},
"spacing":3,
"spec":{"width":56.7,"height":187,"layer":[
{"transform":[{"aggregate":[{"op":"count","as":"cnt"}],"groupby":["site"]}],"mark":{"type":"rect"},"encoding":{"y":{"datum":2500,"type":"quantitative","scale":{"domain":[2500,11360],"nice":false,"zero":false},"axis":{"values":[2500,4000,6000,8000,10000],"format":"d","title":"Average unambiguous bases","titleFontSize":10,"labelFontSize":5.4,"labelPadding":1,"titlePadding":2}},"y2":{"datum":10767},"fill":{"condition":{"test":"datum.site % 2 == 1","value":"#ebebeb"},"value":"#ffffff"}}},
{"transform":[{"aggregate":[{"op":"count","as":"cnt"}],"groupby":["site"]}],"mark":{"type":"rect","fill":"#dedede"},"encoding":{"y":{"datum":10782,"type":"quantitative"},"y2":{"datum":11360}}},
{"transform":[{"aggregate":[{"op":"count","as":"cnt"}],"groupby":["site"]},{"calculate":"'Sample site ' + datum.site","as":"strip"}],"mark":{"type":"text","fontSize":8.8,"color":"#333"},"encoding":{"y":{"datum":11071,"type":"quantitative"},"text":{"field":"strip"}}},
{"transform":[{"filter":"datum.k == 'b'"}],"mark":{"type":"rule","color":"#777","strokeWidth":1},"encoding":{"x":{"field":"iv","type":"ordinal","scale":{"domain":["0-1","2-3","4-6","7+"],"paddingInner":0,"paddingOuter":0},"axis":{"title":null,"labelFontSize":4.5,"labelAngle":0,"labelPadding":1.5,"tickSize":2,"domain":true,"domainColor":"#444","labelColor":"#666"}},"y":{"field":"lo","type":"quantitative"},"y2":{"field":"hi"}}},
{"transform":[{"filter":"datum.k == 'b'"}],"mark":{"type":"bar","size":11,"fill":"white","stroke":"#555","strokeWidth":0.8},"encoding":{"x":{"field":"iv","type":"ordinal"},"y":{"field":"q1","type":"quantitative"},"y2":{"field":"q3"}}},
{"transform":[{"filter":"datum.k == 'b'"}],"mark":{"type":"tick","size":11,"thickness":1.2,"color":"#222"},"encoding":{"x":{"field":"iv","type":"ordinal"},"y":{"field":"med","type":"quantitative"}}},
{"transform":[{"filter":"datum.k == 'p'"}],"mark":{"type":"circle","size":11,"opacity":1},"encoding":{"x":{"field":"iv","type":"ordinal"},"y":{"field":"v","type":"quantitative"},"color":{"field":"iv","type":"nominal","scale":{"domain":["0-1","2-3","4-6","7+"],"range":["#2b2320","#8b5a44","#d4621e","#f6ac3c"]},"legend":null}}}
]}}
]}
]
}
